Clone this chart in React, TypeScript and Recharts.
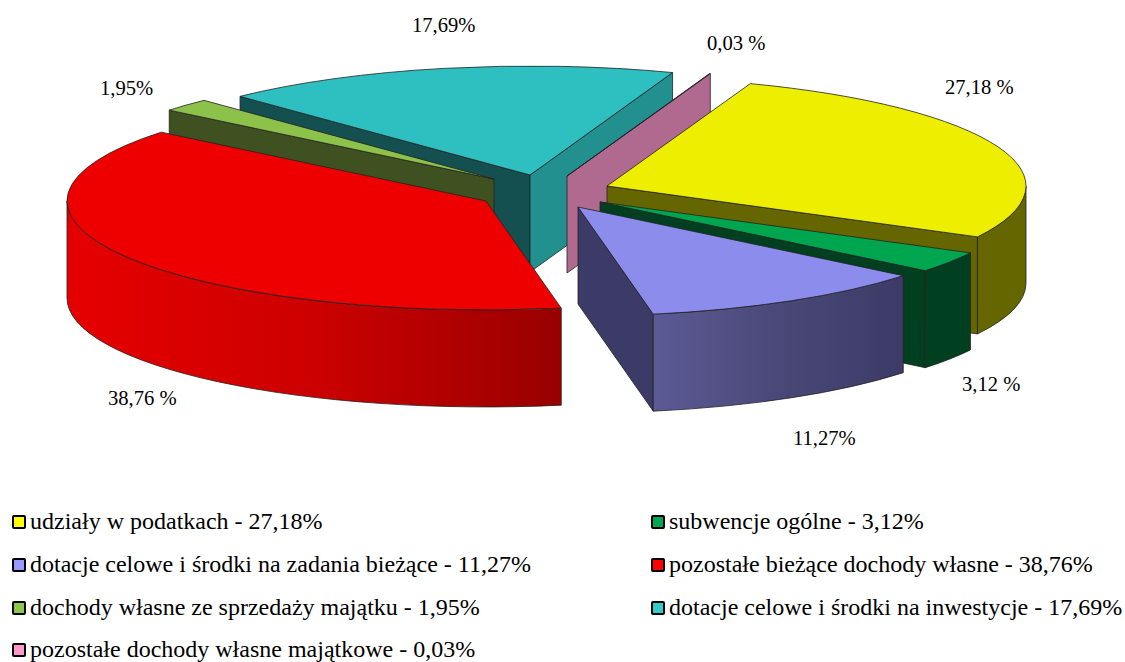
import { Pie, PieChart } from "recharts";

const NAMES = [
  "udziały w podatkach",
  "subwencje ogólne",
  "dotacje celowe i środki na zadania bieżące",
  "pozostałe bieżące dochody własne",
  "dochody własne ze sprzedaży majątku",
  "dotacje celowe i środki na inwestycje",
  "pozostałe dochody własne majątkowe",
];
const VALUES = [27.18, 3.12, 11.27, 38.76, 1.95, 17.69, 0.03];
const VALUE_LABELS = ["27,18 %", "3,12 %", "11,27%", "38,76 %", "1,95%", "17,69%", "0,03 %"];

// where each label sits on the page (left, middle y)
const LABEL_POS = [
  [945, 87],
  [962, 384],
  [793, 438],
  [108, 398],
  [100, 88],
  [412, 25],
  [707, 43],
];

// slice pulled out of the pie: px away from the centre
const EXPLODE = [
  [52, -4],
  [45, 12],
  [23, 17],
  [-69, 11],
  [-61, -11],
  [-25, -15],
  [12, -14],
];

const TOP = ["#eeee00", "#00a64f", "#8c8ced", "#ee0000", "#8cc14a", "#2ebfc0", "#b06a8f"];
const WALL_START = ["#666600", "#004020", "#3c3a66", "#aa0000", "#3f5120", "#145050", "#b06a8f"];
const WALL_END = ["#666600", "#004020", "#3c3a66", "#aa0000", "#3f5120", "#21908f", "#b06a8f"];
const SIDE_FROM = ["#666600", "#004020", "#5c5a94", "#e60000", "#3f5120", "#145050", "#b06a8f"];
const SIDE_MID = ["#666600", "#004020", "#4a4878", "#cc0000", "#3f5120", "#145050", "#b06a8f"];
const SIDE_TO = ["#666600", "#004020", "#3c3a66", "#990000", "#3f5120", "#145050", "#b06a8f"];
const SWATCH = ["#ffff00", "#00a650", "#9999ff", "#ff0000", "#8cc84b", "#33cccc", "#ff99cc"];

// painter's order, back to front
const DRAW_ORDER = [5, 6, 4, 3, 0, 1, 2];

const W = 1125;
const H = 662;
const CX = 555;
const CY = 190;
const RX = 419;
const SQUASH = 0.26;
const DEPTH = 97;
const EDGE = "#222";
const FONT = "'Liberation Serif', 'Times New Roman', serif";

const slices = NAMES.map((name, i) => ({ name, value: VALUES[i] }));

function Slice3D(props: any) {
  const { startAngle, endAngle, cx, cy, outerRadius, index } = props;
  const rx = outerRadius;
  const ry = rx * SQUASH;
  const ax = cx + EXPLODE[index][0];
  const ay = cy + EXPLODE[index][1];
  const rad = (a: number) => (a * Math.PI) / 180;
  const px = (a: number) => ax + rx * Math.cos(rad(a));
  const py = (a: number) => ay - ry * Math.sin(rad(a));

  const wall = (a: number) =>
    `M${ax} ${ay}L${px(a)} ${py(a)}L${px(a)} ${py(a) + DEPTH}L${ax} ${ay + DEPTH}Z`;

  const large = startAngle - endAngle > 180 ? 1 : 0;
  const top = `M${ax} ${ay}L${px(startAngle)} ${py(startAngle)}A${rx} ${ry} 0 ${large} 1 ${px(endAngle)} ${py(endAngle)}Z`;

  // outer skin only on the front half of the ellipse
  const hi = Math.min(startAngle, 0);
  const lo = Math.max(endAngle, -180);
  const gid = `side-${index}`;
  const side =
    hi > lo
      ? `M${px(hi)} ${py(hi)}A${rx} ${ry} 0 0 1 ${px(lo)} ${py(lo)}L${px(lo)} ${py(lo) + DEPTH}A${rx} ${ry} 0 0 0 ${px(hi)} ${py(hi) + DEPTH}Z`
      : null;

  return (
    <g>
      <defs>
        <linearGradient id={gid} x1="0" y1="0" x2="1" y2="0">
          <stop offset="0" stopColor={SIDE_FROM[index]} />
          <stop offset="0.5" stopColor={SIDE_MID[index]} />
          <stop offset="1" stopColor={SIDE_TO[index]} />
        </linearGradient>
      </defs>
      {Math.cos(rad(startAngle)) < 0 && (
        <path d={wall(startAngle)} fill={WALL_START[index]} stroke={EDGE} strokeWidth={0.8} />
      )}
      {Math.cos(rad(endAngle)) > 0 && (
        <path d={wall(endAngle)} fill={WALL_END[index]} stroke={EDGE} strokeWidth={0.8} />
      )}
      {side && <path d={side} fill={`url(#${gid})`} stroke={EDGE} strokeWidth={0.8} />}
      <path d={top} fill={TOP[index]} stroke={EDGE} strokeWidth={0.8} strokeLinejoin="round" />
    </g>
  );
}

function LegendItem({ i, x, y }: { i: number; x: number; y: number }) {
  return (
    <div
      style={{
        position: "absolute",
        left: x,
        top: y - 14,
        height: 28,
        lineHeight: "28px",
        fontSize: 24,
        fontFamily: FONT,
        color: "#000",
        whiteSpace: "nowrap",
      }}
    >
      <span
        style={{
          position: "absolute",
          left: 0,
          top: 8,
          width: 10,
          height: 10,
          border: "2px solid #000",
          borderRadius: 2,
          background: SWATCH[i],
        }}
      />
      <span style={{ marginLeft: 18 }}>
        {NAMES[i]} - {VALUE_LABELS[i].replace(" ", "")}
      </span>
    </div>
  );
}

const LEGEND_X = [12, 651];
const LEGEND_Y = [521, 564, 607, 649];

export default function App() {
  return (
    <div style={{ position: "absolute", left: 0, top: 0, width: W, height: H, background: "#fff", overflow: "hidden" }}>
      <PieChart width={W} height={H} margin={{ top: 0, right: 0, bottom: 0, left: 0 }}>
        {DRAW_ORDER.map((idx) => (
          <Pie
            key={idx}
            data={slices}
            dataKey="value"
            nameKey="name"
            cx={CX}
            cy={CY}
            outerRadius={RX}
            startAngle={70}
            endAngle={-290}
            stroke="none"
            isAnimationActive={false}
            shape={(p: any) => {
              const i = NAMES.indexOf(p.name);
              return i === idx ? <Slice3D {...p} index={i} /> : <g />;
            }}
          />
        ))}
      </PieChart>
      {VALUE_LABELS.map((t, i) => (
        <div
          key={t}
          style={{
            position: "absolute",
            left: LABEL_POS[i][0],
            top: LABEL_POS[i][1] - 12,
            lineHeight: "24px",
            fontSize: 20.6,
            fontFamily: FONT,
            color: "#000",
            whiteSpace: "nowrap",
          }}
        >
          {t}
        </div>
      ))}
      {NAMES.map((_, i) => (
        <LegendItem key={i} i={i} x={LEGEND_X[i % 2]} y={LEGEND_Y[Math.floor(i / 2)]} />
      ))}
    </div>
  );
}
